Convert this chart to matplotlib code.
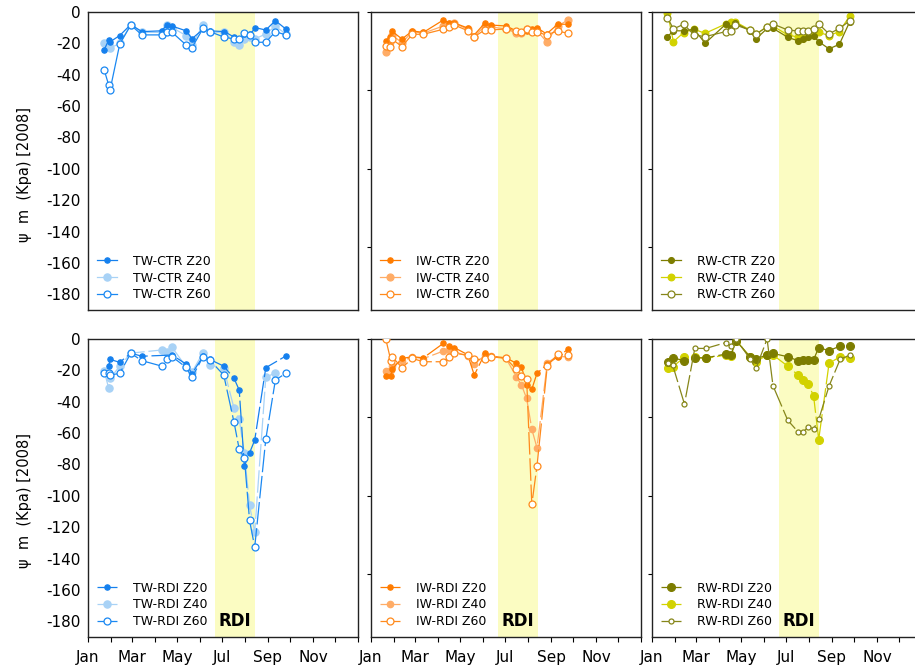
import numpy as np
import matplotlib
matplotlib.use('Agg')
import matplotlib.pyplot as plt

plt.rcParams['font.family'] = ['DejaVu Sans']
plt.rcParams['axes.unicode_minus'] = False

nan = np.nan

# ---------------- axis / labels ----------------
month_starts = [0, 31, 60, 91, 121, 152, 182, 213, 244, 274, 305, 335, 366]
month_labels = ['Jan', '', 'Mar', '', 'May', '', 'Jul', '', 'Sep', '', 'Nov', '', '']
ylabel_text = 'ψ  m  (Kpa) [2008]'
rdi_start, rdi_end = 172, 226   # day of year
rdi_label = 'RDI'

# ---------------- TW-CTR ----------------
TW_CTR_days = [22, 28, 30, 43, 58, 73, 100, 107, 114, 133, 141, 156, 165, 185, 198, 205, 212, 220, 227, 241, 254, 268]
TW_CTR_Z20 = [-24, -18, -19, -15, -8, -12.5, -12, -8, -9, -12, -17, -11, -12, -12.5, -16, -17, -14, -14, -10, -11.5, -5.5, -10.8]
TW_CTR_Z40 = [-19.5, -21, -23, -20, -8, -13, -13, -8, -10, -15, -21, -8, -13, -13, -19, -21, -17, -16, -17, -14, -9, -14]
TW_CTR_Z60 = [-37, -46.5, -49.5, -20.5, -8.3, -14.6, -14.6, -12.5, -13, -21, -22.7, -10.4, -12.5, -16.1, -17.2, -17.2, -13.6, -14.6, -19.3, -19.3, -12.5, -14.6]

# ---------------- TW-RDI ----------------
TW_RDI_days = [22, 28, 30, 43, 58, 73, 100, 107, 114, 133, 141, 156, 165, 184, 198, 205, 212, 219, 226, 241, 254, 268]
TW_RDI_Z20 = [nan, -17.3, -13, -14.9, -9, -11, nan, nan, -10.2, -16, -22, -11, -13, -17.3, -25.1, -32.6, -81.1, -72.6, -64.5, -18.3, nan, -10.9]
TW_RDI_Z40 = [-20.2, -31.5, -25.1, -17.3, -9, nan, -7, -8.1, -5.3, -17.7, -21, -8.7, -16.6, -18.7, -44.3, -51.3, -73, -106, -123.1, -24.5, -21.5, nan]
TW_RDI_Z60 = [-21.9, -21.5, -23, -21.9, -9.1, -13.8, -17.3, -13, -11.3, -18.1, -24.5, -11.3, -13.4, -23, -53.2, -70.3, -75.8, -115.7, -132.7, -63.9, -26.2, -21.9]

# ---------------- IW-CTR ----------------
IW_CTR_days = [20, 26, 28, 42, 56, 71, 98, 106, 113, 131, 139, 154, 162, 183, 197, 203, 211, 218, 225, 238, 253, 267]
IW_CTR_Z20 = [-18.2, -16, -12.1, -17.2, -12.1, -13, -5.1, -7, -7, -10.2, -15.1, -7.2, -8.3, -8.9, -12, -13, -12, -11, -10, -14, -7.8, -7.8]
IW_CTR_Z40 = [-25.2, -19, -14.5, -19.6, -12.5, -13.5, -8.9, -7.5, -7, -11, -16, -9, -9.5, -10.8, -13.5, -13.5, -11, -12, -12, -18.9, -9, -5.1]
IW_CTR_Z60 = [-21.6, -22, -17.2, -22, -14.2, -14.2, -11, -9.3, -8.3, -11.9, -16.1, -11.5, -11.5, -10.8, -11.9, -12.9, -10.8, -12.9, -12.9, -14.6, -12.1, -13.6]

# ---------------- IW-RDI ----------------
IW_RDI_days = [20, 27, 29, 42, 56, 71, 98, 106, 113, 131, 140, 155, 163, 183, 197, 204, 211, 218, 225, 239, 253, 267]
IW_RDI_Z20 = [-23.4, -23.4, -19, -12.4, -11.3, -12, -2.8, -4.3, -5.5, -10, -23, -8.7, -11, -12, -15.5, -17.7, -29.4, -32, -21.9, -16, -11.3, -6.6]
IW_RDI_Z40 = [-20.4, -20, -17, -14, -11.5, -12.5, -7.7, -7, -8, -11, -16.2, -10, -11, -12.4, -24, -29.4, -37.9, -57.5, -69.4, -15.1, -11, -11.5]
IW_RDI_Z60 = [0, -14, -11.5, -18.3, -12.4, -14.5, -14.5, -11.3, -9.2, -10.2, -13, -13, -11.3, -12.4, -19.4, -23.4, -25.8, -105.4, -81, -17, -9.8, -10.2]

# ---------------- RW-CTR ----------------
RW_CTR_days = [21, 29, 43, 57, 72, 100, 107, 113, 133, 141, 156, 164, 184, 198, 205, 212, 219, 226, 240, 254, 268]
RW_CTR_Z20 = [-15.7, -12, -12, -11, -19.9, -7.8, -10, -7, -12, -17.2, -10.5, -10.4, -16.1, -18.4, -17.4, -15.7, -15.3, -18.9, -23.5, -20.6, -6.2]
RW_CTR_Z40 = [-0.4, -18.9, -13.1, -11, -13.6, -7.6, -6.6, -6.2, -11.5, -14, -9.5, -9, -14.6, -16, -16.5, -15, -14, -13, -15, -12.5, -2.5]
RW_CTR_Z60 = [-3.6, -10.8, -7.8, -14.6, -15.7, -12.5, -11.9, -8.3, -11.5, -14.2, -9.3, -7.6, -11.5, -12.1, -12.1, -12.1, -11, -7.6, -14, -10.4, -5.7]

# ---------------- RW-RDI ----------------
RW_RDI_days = [22, 28, 44, 58, 73, 100, 107, 114, 133, 141, 156, 164, 184, 198, 205, 212, 219, 226, 240, 255, 268]
RW_RDI_Z20 = [-14.5, -12, -13.8, -12, -12, -9.6, -10, -1, -11.5, -12.8, -10, -9.2, -11.3, -13.8, -13.2, -13.2, -13.2, -5.5, -7.4, -4.5, -4.5]
RW_RDI_Z40 = [-18.7, -17.6, -11.7, -11.7, -12.4, -10.2, -10.6, -1, -11.3, -14.5, -10.2, -10.2, -17.3, -23, -26.2, -29, -36.2, -64.1, -15.5, -11.3, -12.4]
RW_RDI_Z60 = [-15.5, -16.6, -41.5, -6, -6, -2.3, -4.3, 0, -12.8, -18.7, 0, -29.8, -51.8, -59.2, -59.2, -56, -57.3, -51.3, -30, -13, -10.2]

# ---------------- styles ----------------
TW_colors = ['#1580ee', '#a8d2f6', '#1a88f2']
IW_colors = ['#ff7c00', '#ffac66', '#ff8a1c']
RW_colors = ['#7d7d00', '#d2d200', '#86861a']
span_color = '#fbfcc2'

W, H = 915, 669
fig = plt.figure(figsize=(W / 100, H / 100), dpi=100)

col_x = [88, 371, 652]
row_y = [(12, 310), (339, 637)]
pw = 270

panels = [
    (0, 0, TW_CTR_days, [TW_CTR_Z20, TW_CTR_Z40, TW_CTR_Z60], TW_colors, 'TW-CTR', False, [3.8, 5.2, 5.0]),
    (0, 1, IW_CTR_days, [IW_CTR_Z20, IW_CTR_Z40, IW_CTR_Z60], IW_colors, 'IW-CTR', False, [3.8, 5.0, 5.0]),
    (0, 2, RW_CTR_days, [RW_CTR_Z20, RW_CTR_Z40, RW_CTR_Z60], RW_colors, 'RW-CTR', False, [4.2, 4.8, 5.0]),
    (1, 0, TW_RDI_days, [TW_RDI_Z20, TW_RDI_Z40, TW_RDI_Z60], TW_colors, 'TW-RDI', True, [3.8, 5.2, 5.0]),
    (1, 1, IW_RDI_days, [IW_RDI_Z20, IW_RDI_Z40, IW_RDI_Z60], IW_colors, 'IW-RDI', True, [3.8, 4.6, 5.0]),
    (1, 2, RW_RDI_days, [RW_RDI_Z20, RW_RDI_Z40, RW_RDI_Z60], RW_colors, 'RW-RDI', True, [5.6, 5.6, 3.6]),
]

for row, col, days, series, colors, name, rdi, sizes in panels:
    y0, y1 = row_y[row]
    ax = fig.add_axes([col_x[col] / W, 1 - y1 / H, pw / W, (y1 - y0) / H])
    ax.axvspan(rdi_start, rdi_end, color=span_color, lw=0, zorder=0)
    ls = (0, (18, 3)) if rdi else '-'
    d = np.array(days, dtype=float)
    handles = []
    zorders = [3, 2, 4]
    for k, (vals, c, ms) in enumerate(zip(series, colors, sizes)):
        v = np.array(vals, dtype=float)
        m = ~np.isnan(v)
        face = 'white' if k == 2 else c
        ln, = ax.plot(d[m], v[m], color=c, lw=0.9, ls=ls, marker='o', ms=ms,
                      mfc=face, mec=c, mew=0.9, zorder=zorders[k])
        handles.append(ln)
    labels = [f'{name} Z20', f'{name} Z40', f'{name} Z60']
    ax.legend(handles, labels, loc='lower left', frameon=False, fontsize=9,
              handlelength=1.6, handletextpad=1.3, labelspacing=0.3,
              borderaxespad=0.3)
    ax.set_xlim(0, 366)
    ax.set_ylim(-190, 0)
    for s in ax.spines.values():
        s.set_linewidth(1.0)
        s.set_color('#222222')
    if row == 1:
        ax.set_xticks(month_starts)
        ax.set_xticklabels(month_labels, fontsize=11)
        ax.tick_params(axis='x', direction='out', length=3.5, width=0.8, pad=6)
        ax.text((rdi_start + rdi_end) / 2, -180, rdi_label, ha='center', va='center',
                fontsize=12, fontweight='bold', zorder=5)
    else:
        ax.set_xticks([])
    if col == 0:
        ax.set_yticks(np.arange(0, -181, -20))
        ax.set_yticklabels([str(t) for t in np.arange(0, -181, -20)], fontsize=11)
        ax.tick_params(axis='y', length=0, pad=5)
        fig.text(0.027, 1 - ((y0 + y1) / 2 + 13) / H, ylabel_text, rotation=90,
                 ha='center', va='center', fontsize=10.5)
    else:
        ax.set_yticks([0, -50, -100, -150])
        ax.set_yticklabels([])
        ax.tick_params(axis='y', direction='out', length=3, width=0.8)

fig.savefig('out.png', dpi=100)
